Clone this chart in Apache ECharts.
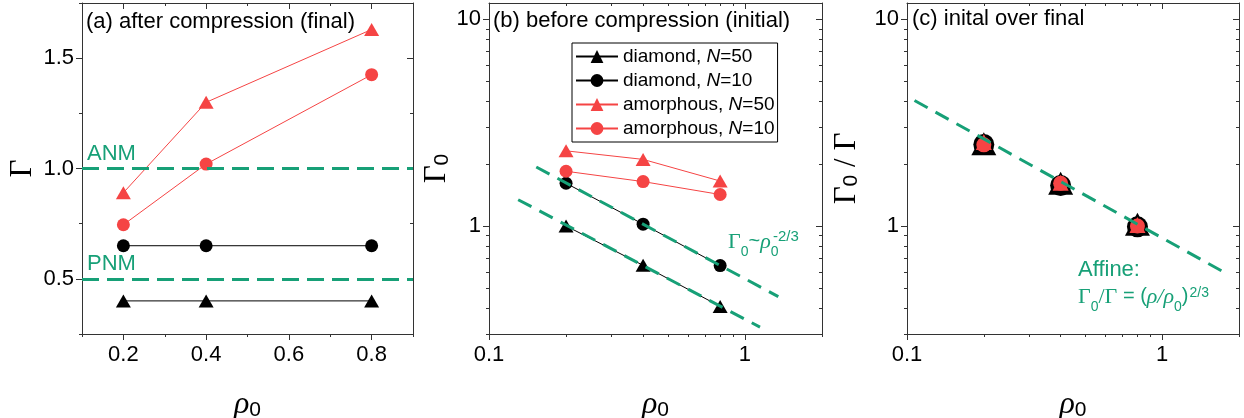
<!DOCTYPE html>
<html>
<head>
<meta charset="utf-8">
<script src="https://cdn.jsdelivr.net/npm/echarts@6/dist/echarts.min.js"></script>
<style>
html, body { margin: 0; padding: 0; background: #fff; }
#chart { width: 1244px; height: 418px; }
</style>
</head>
<body>
<div id="chart"></div>
<script>
// densities shared by all three panels
const rho0 = [0.2, 0.4, 0.8];

// (a) Gamma after compression
const finalDiamond50 = [0.40, 0.40, 0.40];
const finalDiamond10 = [0.65, 0.65, 0.65];
const finalAmorph50 = [0.89, 1.30, 1.63];
const finalAmorph10 = [0.745, 1.02, 1.425];
const refLevels = [1.0, 0.5];
const refNames = ['ANM', 'PNM'];

// (b) Gamma_0 before compression
const initDiamond50 = [1.00, 0.645, 0.408];
const initDiamond10 = [1.61, 1.02, 0.643];
const initAmorph50 = [2.31, 2.10, 1.65];
const initAmorph10 = [1.84, 1.64, 1.42];
// rho0^(-2/3) guides, end points
const guideUpper = [[0.153, 1.93], [1.35, 0.455]];
const guideLower = [[0.13, 1.34], [1.145, 0.324]];

// (c) Gamma_0 / Gamma
const ratioDiamond50 = [2.50, 1.61, 1.02];
const ratioDiamond10 = [2.48, 1.57, 0.99];
const ratioAmorph50 = [2.55, 1.62, 1.01];
const ratioAmorph10 = [2.47, 1.61, 1.00];
const affineLine = [[0.107, 4.05], [1.8, 0.585]];

// ticks
const linXMajor = [0.2, 0.4, 0.6, 0.8];
const linXMinor = [0.1, 0.3, 0.5, 0.7, 0.9];
const linYMajor = [0.5, 1.0, 1.5];
const linYMinor = [0.25, 0.75, 1.25, 1.75];
const logXMajor = [0.1, 1];
const logXMinor = [0.2, 0.3, 0.4, 0.5, 0.6, 0.7, 0.8, 0.9, 2];
const logYMajor = [1, 10];
const logYMinor = [0.3, 0.4, 0.5, 0.6, 0.7, 0.8, 0.9, 2, 3, 4, 5, 6, 7, 8, 9];

const legendNames = ['diamond, N=50', 'diamond, N=10', 'amorphous, N=50', 'amorphous, N=10'];

const GREEN = '#17a077';
const RED = '#f54444';
const AXIS = '#333';
const SANS = '"Liberation Sans", Arial, sans-serif';
const SERIF = '"Liberation Serif", "Times New Roman", serif';

const grids = [
  { left: 82, top: 3, width: 331, height: 331, outerBoundsMode: 'none' },
  { left: 489, top: 3, width: 333, height: 331, outerBoundsMode: 'none' },
  { left: 907, top: 3, width: 332, height: 331, outerBoundsMode: 'none' }
];

const nameRich = {
  g: { fontFamily: SERIF, fontSize: 31, color: '#000' },
  r: { fontFamily: SERIF, fontStyle: 'italic', fontSize: 32, color: '#000' },
  s: { fontFamily: SANS, fontSize: 21, color: '#000', verticalAlign: 'bottom' }
};

// four axes per side: near (labels + major), near minor, far major (inside), far minor
function frameAxes(dim, grid, c) {
  const near = dim === 'x' ? 'bottom' : 'left';
  const far = dim === 'x' ? 'top' : 'right';
  const mk = (pos, ticks, len, inside, line) => ({
    gridIndex: grid, type: c.type, min: c.min, max: c.max, position: pos,
    splitLine: { show: false },
    axisLine: { show: line, onZero: false, lineStyle: { color: AXIS, width: 1 } },
    axisTick: { show: true, customValues: ticks, length: len, inside: inside, lineStyle: { color: AXIS } },
    axisLabel: { show: false }
  });
  const main = mk(near, c.major, 6, false, true);
  main.axisLabel = {
    show: true, customValues: c.major, formatter: c.fmt,
    fontSize: 22, fontFamily: SANS, color: '#000', margin: dim === 'x' ? 10 : 8
  };
  main.name = c.name;
  main.nameLocation = 'middle';
  main.nameGap = c.nameGap;
  main.nameTextStyle = { rich: nameRich };
  return [main, mk(near, c.minor, 3, false, false), mk(far, c.major, 6, true, true), mk(far, c.minor, 3, true, false)];
}

const fmtLin = v => v.toFixed(1);
const fmtLog = v => String(+v.toPrecision(3));
const rhoName = '{r|ρ}{s|0}';

const xAxes = [].concat(
  frameAxes('x', 0, { type: 'value', min: 0.1, max: 0.9, major: linXMajor, minor: linXMinor, fmt: fmtLin, name: rhoName, nameGap: 55 }),
  frameAxes('x', 1, { type: 'log', min: 0.1, max: 2, major: logXMajor, minor: logXMinor, fmt: fmtLog, name: rhoName, nameGap: 55 }),
  frameAxes('x', 2, { type: 'log', min: 0.1, max: 2, major: logXMajor, minor: logXMinor, fmt: fmtLog, name: rhoName, nameGap: 55 })
);
const yAxes = [].concat(
  frameAxes('y', 0, { type: 'value', min: 0.25, max: 1.75, major: linYMajor, minor: linYMinor, fmt: fmtLin, name: '{g|Γ}', nameGap: 44 }),
  frameAxes('y', 1, { type: 'log', min: 0.3, max: 12, major: logYMajor, minor: logYMinor, fmt: fmtLog, name: '{g|Γ}{s|0}', nameGap: 31 }),
  frameAxes('y', 2, { type: 'log', min: 0.3, max: 12, major: logYMajor, minor: logYMinor, fmt: fmtLog, name: '{g|Γ}{s|0}{g| / Γ}', nameGap: 45 })
);

function pairs(xs, ys) { return xs.map((x, i) => [x, ys[i]]); }

function markerSeries(name, panel, ys, symbol, color, size, withLine) {
  return {
    name: name, type: withLine ? 'line' : 'scatter',
    xAxisIndex: panel * 4, yAxisIndex: panel * 4,
    data: pairs(rho0, ys),
    symbol: symbol, symbolSize: size, showSymbol: true,
    itemStyle: { color: color, opacity: 1 },
    lineStyle: { color: color, width: 1 },
    z: 3
  };
}

const TRI = [15, 13];
const CIR = 13;

function dashed(panel, data, z) {
  return {
    type: 'line', xAxisIndex: panel * 4, yAxisIndex: panel * 4,
    data: data, showSymbol: false, symbol: 'none', silent: true,
    lineStyle: { color: GREEN, width: 3, type: [15, 9] }, z: z
  };
}

const series = [
  // (a)
  {
    type: 'line', xAxisIndex: 0, yAxisIndex: 0, data: [], silent: true, z: 1,
    markLine: {
      silent: true, symbol: ['none', 'none'], animation: false,
      lineStyle: { color: GREEN, width: 3, type: [17, 8] },
      label: { show: true, position: 'insideStartTop', formatter: '{b}', color: GREEN, fontSize: 22, fontFamily: SANS, distance: [5, 4] },
      data: refLevels.map((v, i) => ({ yAxis: v, name: refNames[i] }))
    }
  },
  markerSeries('a diamond 50', 0, finalDiamond50, 'triangle', '#000', TRI, true),
  markerSeries('a diamond 10', 0, finalDiamond10, 'circle', '#000', CIR, true),
  markerSeries('a amorphous 50', 0, finalAmorph50, 'triangle', RED, TRI, true),
  markerSeries('a amorphous 10', 0, finalAmorph10, 'circle', RED, CIR, true),
  // (b)
  markerSeries(legendNames[0], 1, initDiamond50, 'triangle', '#000', TRI, true),
  markerSeries(legendNames[1], 1, initDiamond10, 'circle', '#000', CIR, true),
  markerSeries(legendNames[2], 1, initAmorph50, 'triangle', RED, TRI, true),
  markerSeries(legendNames[3], 1, initAmorph10, 'circle', RED, CIR, true),
  dashed(1, guideUpper, 5),
  dashed(1, guideLower, 5),
  // (c)
  markerSeries('c diamond 50', 2, ratioDiamond50, 'triangle', '#000', [25, 23], false),
  markerSeries('c diamond 10', 2, ratioDiamond10, 'circle', '#000', 21, false),
  markerSeries('c amorphous 50', 2, ratioAmorph50, 'triangle', RED, [16, 16], false),
  markerSeries('c amorphous 10', 2, ratioAmorph10, 'circle', RED, 15, false),
  dashed(2, affineLine, 5)
];

const titleFont = '22px ' + SANS;
const annRich = {
  g: { fontFamily: SERIF, fontSize: 22, fill: GREEN, verticalAlign: 'top', lineHeight: 23 },
  r: { fontFamily: SERIF, fontStyle: 'italic', fontSize: 22, fill: GREEN, verticalAlign: 'top', lineHeight: 23 },
  t: { fontFamily: SANS, fontSize: 20, fill: GREEN, verticalAlign: 'top', lineHeight: 23 },
  s: { fontFamily: SANS, fontSize: 14, fill: GREEN, verticalAlign: 'top', lineHeight: 14, padding: [14, 0, 0, 0] },
  p: { fontFamily: SANS, fontSize: 14, fill: GREEN, verticalAlign: 'top', lineHeight: 14, padding: [0, 0, 0, 1] }
};

const graphics = [
  { type: 'text', left: 86, top: 11, style: { text: '(a) after compression (final)', font: titleFont, fill: '#000' } },
  { type: 'text', left: 493, top: 10, style: { text: '(b) before compression (initial)', font: titleFont, fill: '#000' } },
  { type: 'text', left: 912, top: 8, style: { text: '(c) inital over final', font: titleFont, fill: '#000' } },
  { type: 'text', left: 728, top: 231, style: { text: '{g|Γ}{s|0}{t|~}{r|ρ}{s|0}', rich: annRich } },
  { type: 'text', left: 773, top: 229, style: { text: '-2/3', font: '15px ' + SANS, fill: GREEN } },
  { type: 'text', left: 1078, top: 259, style: { text: 'Affine:', font: '22px ' + SANS, fill: GREEN } },
  { type: 'text', left: 1078, top: 286, style: { text: '{g|Γ}{s|0}{g|/Γ}{t| = (}{r|ρ/ρ}{s|0}{t|)}{p|2/3}', rich: annRich } }
];

const chart = echarts.init(document.getElementById('chart'));
chart.setOption({
  animation: false,
  grid: grids,
  xAxis: xAxes,
  yAxis: yAxes,
  legend: {
    data: legendNames, selectedMode: false, orient: 'vertical',
    left: 572, top: 43, itemWidth: 42, itemHeight: 16, itemGap: 5,
    padding: [4, 3, 4, 3], borderColor: '#000', borderWidth: 1, backgroundColor: '#fff',
    formatter: n => n.replace('N=', '{i|N}='),
    textStyle: {
      fontSize: 19, fontFamily: SANS, color: '#000',
      rich: { i: { fontSize: 19, fontFamily: SANS, fontStyle: 'italic', color: '#000' } }
    }
  },
  graphic: graphics,
  series: series
});
</script>
</body>
</html>
